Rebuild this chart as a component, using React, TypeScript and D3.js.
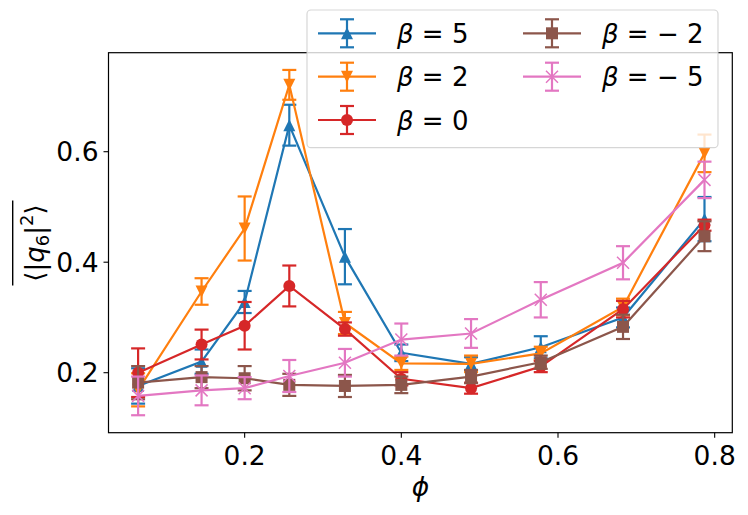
import * as d3 from "d3";

const WIDTH = 748;
const HEIGHT = 515;
const PLOT = { left: 108.5, right: 732.3, top: 52.7, bottom: 432.7 };

// volume fractions
const phi = [0.064, 0.145, 0.2, 0.257, 0.328, 0.4, 0.489, 0.578, 0.683, 0.787];

const beta5 = [0.176, 0.22, 0.328, 0.648, 0.41, 0.236, 0.216, 0.246, 0.3, 0.478];
const beta5Err = [0.032, 0.022, 0.02, 0.037, 0.05, 0.015, 0.012, 0.02, 0.018, 0.04];

const beta2 = [0.169, 0.347, 0.461, 0.721, 0.29, 0.217, 0.216, 0.235, 0.319, 0.597];
const beta2Err = [0.03, 0.024, 0.058, 0.027, 0.02, 0.012, 0.015, 0.012, 0.015, 0.034];

const beta0 = [0.2, 0.251, 0.285, 0.357, 0.279, 0.189, 0.172, 0.211, 0.315, 0.467];
const beta0Err = [0.044, 0.027, 0.043, 0.037, 0.012, 0.012, 0.01, 0.01, 0.015, 0.01];

const betaM2 = [0.182, 0.192, 0.19, 0.178, 0.176, 0.178, 0.193, 0.219, 0.283, 0.447];
const betaM2Err = [0.03, 0.02, 0.022, 0.02, 0.02, 0.015, 0.012, 0.012, 0.022, 0.027];

const betaM5 = [0.158, 0.168, 0.172, 0.194, 0.218, 0.26, 0.271, 0.332, 0.399, 0.549];
const betaM5Err = [0.035, 0.027, 0.02, 0.029, 0.025, 0.029, 0.026, 0.032, 0.03, 0.033];

const xTicks = [0.2, 0.4, 0.6, 0.8];
const yTicks = [0.2, 0.4, 0.6];

type Marker = "up" | "down" | "circle" | "square" | "x";

interface Series {
    label: string;
    values: number[];
    errors: number[];
    color: string;
    marker: Marker;
}

const series: Series[] = [
    { label: "5", values: beta5, errors: beta5Err, color: "#1f77b4", marker: "up" },
    { label: "2", values: beta2, errors: beta2Err, color: "#ff7f0e", marker: "down" },
    { label: "0", values: beta0, errors: beta0Err, color: "#d62728", marker: "circle" },
    { label: "\u2212 2", values: betaM2, errors: betaM2Err, color: "#8c564b", marker: "square" },
    { label: "\u2212 5", values: betaM5, errors: betaM5Err, color: "#e377c2", marker: "x" },
];

const MS = 12; // marker size in px
const CAP = 7; // half cap width
const LW = 2.2;
const FONT = "DejaVu Sans, sans-serif";

function MarkerShape({ type, x, y, color }: { type: Marker; x: number; y: number; color: string }) {
    const h = MS / 2;
    if (type === "circle") return <circle cx={x} cy={y} r={h} fill={color} />;
    if (type === "square") return <rect x={x - h} y={y - h} width={MS} height={MS} fill={color} />;
    if (type === "up")
        return <path d={`M${x},${y - h}L${x - h},${y + h}L${x + h},${y + h}Z`} fill={color} />;
    if (type === "down")
        return <path d={`M${x},${y + h}L${x - h},${y - h}L${x + h},${y - h}Z`} fill={color} />;
    return (
        <path
            d={`M${x - h},${y - h}L${x + h},${y + h}M${x - h},${y + h}L${x + h},${y - h}`}
            stroke={color}
            strokeWidth={1.5}
            fill="none"
        />
    );
}

export default function App() {
    const xScale = d3.scaleLinear().domain([0.0262, 0.8225]).range([PLOT.left, PLOT.right]);
    const yScale = d3.scaleLinear().domain([0.0914, 0.7792]).range([PLOT.bottom, PLOT.top]);

    const line = d3
        .line<number>()
        .x((_, i) => xScale(phi[i]))
        .y((d) => yScale(d));

    const legendRows = [33.3, 76.7, 120];
    const legendCols = [{ h: 318, t: 397 }, { h: 523, t: 602 }];

    return (
        <div style={{ position: "absolute", left: 0, top: 0 }}>
            <svg width={WIDTH} height={HEIGHT} fontFamily={FONT}>
                <rect width={WIDTH} height={HEIGHT} fill="white" />

                {/* series */}
                {series.map((s) => (
                    <g key={s.label}>
                        {s.values.map((v, i) => {
                            const cx = xScale(phi[i]);
                            const y1 = yScale(v - s.errors[i]);
                            const y2 = yScale(v + s.errors[i]);
                            return (
                                <g key={i} stroke={s.color} strokeWidth={LW}>
                                    <line x1={cx} x2={cx} y1={y1} y2={y2} />
                                    <line x1={cx - CAP} x2={cx + CAP} y1={y1} y2={y1} />
                                    <line x1={cx - CAP} x2={cx + CAP} y1={y2} y2={y2} />
                                </g>
                            );
                        })}
                        <path d={line(s.values) as string} fill="none" stroke={s.color} strokeWidth={LW} />
                        {s.values.map((v, i) => (
                            <MarkerShape key={i} type={s.marker} x={xScale(phi[i])} y={yScale(v)} color={s.color} />
                        ))}
                    </g>
                ))}

                {/* frame */}
                <rect
                    x={PLOT.left}
                    y={PLOT.top}
                    width={PLOT.right - PLOT.left}
                    height={PLOT.bottom - PLOT.top}
                    fill="none"
                    stroke="black"
                    strokeWidth={1.2}
                />

                {/* x axis */}
                {xTicks.map((t) => (
                    <g key={t} transform={`translate(${xScale(t)},${PLOT.bottom})`}>
                        <line y2={5} stroke="black" strokeWidth={1.1} />
                        <text y={32} textAnchor="middle" fontSize={26.5}>
                            {t.toFixed(1)}
                        </text>
                    </g>
                ))}
                <text x={(PLOT.left + PLOT.right) / 2} y={496} textAnchor="middle" fontSize={26.5} fontStyle="italic">
                    ϕ
                </text>

                {/* y axis */}
                {yTicks.map((t) => (
                    <g key={t} transform={`translate(${PLOT.left},${yScale(t)})`}>
                        <line x2={-5} stroke="black" strokeWidth={1.1} />
                        <text x={-10} y={9.5} textAnchor="end" fontSize={26.5}>
                            {t.toFixed(1)}
                        </text>
                    </g>
                ))}
                <g transform="translate(44,243) rotate(-90)">
                    <text textAnchor="middle" fontSize={26}>
                        <tspan>⟨|</tspan>
                        <tspan fontStyle="italic">q</tspan>
                        <tspan fontSize={18} dy={5}>6</tspan>
                        <tspan dy={-5}>|</tspan>
                        <tspan fontSize={18} dy={-11}>2</tspan>
                        <tspan dy={11}>⟩</tspan>
                    </text>
                    <line x1={-42.5} x2={42.5} y1={-31.3} y2={-31.3} stroke="black" strokeWidth={1.4} />
                </g>

                {/* legend */}
                <rect
                    x={307}
                    y={10}
                    width={411}
                    height={137.7}
                    rx={4}
                    fill="white"
                    fillOpacity={0.8}
                    stroke="#cccccc"
                    strokeOpacity={0.8}
                    strokeWidth={1.2}
                />
                {series.map((s, k) => {
                    const col = legendCols[k < 3 ? 0 : 1];
                    const cy = legendRows[k < 3 ? k : k - 3];
                    const cx = col.h + 29;
                    return (
                        <g key={s.label}>
                            <g stroke={s.color} strokeWidth={LW}>
                                <line x1={col.h} x2={col.h + 58} y1={cy} y2={cy} />
                                <line x1={cx} x2={cx} y1={cy - 14} y2={cy + 14} />
                                <line x1={cx - CAP} x2={cx + CAP} y1={cy - 14} y2={cy - 14} />
                                <line x1={cx - CAP} x2={cx + CAP} y1={cy + 14} y2={cy + 14} />
                            </g>
                            <MarkerShape type={s.marker} x={cx} y={cy} color={s.color} />
                            <text x={col.t} y={cy + 9.5} fontSize={26} xmlSpace="preserve">
                                <tspan fontStyle="italic">β</tspan>
                                <tspan>{` = ${s.label}`}</tspan>
                            </text>
                        </g>
                    );
                })}
            </svg>
        </div>
    );
}
